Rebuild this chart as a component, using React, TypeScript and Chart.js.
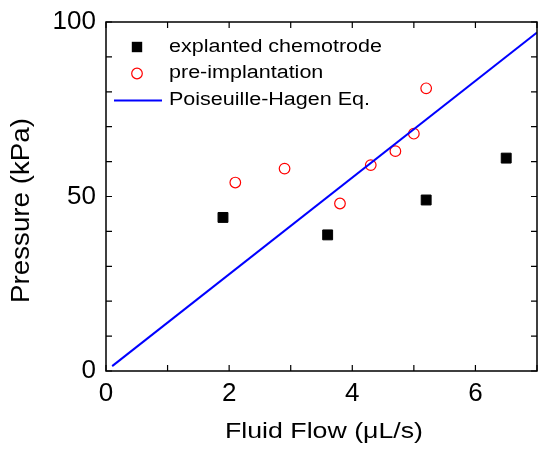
import React, { useEffect, useRef } from "react";
import { Chart, registerables } from "chart.js";

Chart.register(...registerables);

// ---- data ----
const explantedFlow = [1.9, 3.6, 5.2, 6.5];
const explantedPressure = [44, 39, 49, 61];
const preFlow = [2.1, 2.9, 3.8, 4.3, 4.7, 5.0, 5.2];
const prePressure = [54, 58, 48, 59, 63, 68, 81];
const fitFlow = [0.1, 7];
const fitPressure = [1.4, 97];

const xTickLabels = ["0", "2", "4", "6"];
const yTickLabels = ["0", "50", "100"];
const xTitle = "Fluid Flow (\u03bcL/s)";
const yTitle = "Pressure (kPa)";
const legendLabels = ["explanted chemotrode", "pre-implantation", "Poiseuille-Hagen Eq."];

const FONT = '"Liberation Sans", Arial, Helvetica, sans-serif';

function pts(xs: number[], ys: number[]) {
  return xs.map((x, i) => ({ x, y: ys[i] }));
}

export default function App() {
  const ref = useRef<HTMLCanvasElement>(null);

  useEffect(() => {
    const canvas = ref.current!;
    const framePlugin = {
      id: "framePlugin",
      afterDatasetsDraw(chart: any) {
        const ctx = chart.ctx as CanvasRenderingContext2D;
        const a = chart.chartArea;
        const xs = chart.scales.x;
        const ys = chart.scales.y;
        const tl = 6;
        ctx.save();
        ctx.strokeStyle = "#000";
        ctx.lineWidth = 1.5;
        ctx.beginPath();
        ctx.rect(a.left, a.top, a.right - a.left, a.bottom - a.top);
        ctx.stroke();
        ctx.lineWidth = 1.2;
        ctx.beginPath();
        xs.ticks.forEach((t: any) => {
          const px = xs.getPixelForValue(t.value);
          ctx.moveTo(px, a.bottom);
          ctx.lineTo(px, a.bottom - tl);
          ctx.moveTo(px, a.top);
          ctx.lineTo(px, a.top + tl);
        });
        ys.ticks.forEach((t: any) => {
          const py = ys.getPixelForValue(t.value);
          ctx.moveTo(a.left, py);
          ctx.lineTo(a.left + tl, py);
          ctx.moveTo(a.right, py);
          ctx.lineTo(a.right - tl, py);
        });
        ctx.stroke();
        ctx.restore();
      },
      afterDraw(chart: any) {
        const ctx = chart.ctx as CanvasRenderingContext2D;
        ctx.save();
        ctx.fillStyle = "#000";
        // x title
        ctx.font = `22px ${FONT}`;
        ctx.textAlign = "center";
        ctx.textBaseline = "alphabetic";
        let w = ctx.measureText(xTitle).width;
        ctx.save();
        ctx.translate(324, 438);
        ctx.scale(198 / w, 1);
        ctx.fillText(xTitle, 0, 0);
        ctx.restore();
        // y title
        ctx.font = `25px ${FONT}`;
        ctx.textBaseline = "middle";
        w = ctx.measureText(yTitle).width;
        ctx.save();
        ctx.translate(22, 210.5);
        ctx.rotate(-Math.PI / 2);
        ctx.scale(185 / w, 1);
        ctx.fillText(yTitle, 0, 0);
        ctx.restore();
        // legend
        ctx.font = `18px ${FONT}`;
        ctx.textAlign = "left";
        ctx.textBaseline = "middle";
        const sx = 213 / ctx.measureText(legendLabels[0]).width;
        const rowsY = [47, 73.5, 100];
        legendLabels.forEach((lab, i) => {
          ctx.save();
          ctx.translate(169, rowsY[i]);
          ctx.scale(sx, 1);
          ctx.fillText(lab, 0, 0);
          ctx.restore();
        });
        // legend markers
        ctx.fillStyle = "#000";
        ctx.fillRect(137 - 5.2, 47 - 5.2, 10.4, 10.4);
        ctx.strokeStyle = "#ff0000";
        ctx.lineWidth = 1.2;
        ctx.beginPath();
        ctx.arc(137, 73.5, 5.3, 0, Math.PI * 2);
        ctx.stroke();
        ctx.strokeStyle = "#0000ff";
        ctx.lineWidth = 2;
        ctx.beginPath();
        ctx.moveTo(114, 100.5);
        ctx.lineTo(162, 100.5);
        ctx.stroke();
        ctx.restore();
      },
    };

    const chart = new Chart(canvas, {
      type: "scatter",
      data: {
        datasets: [
          {
            label: legendLabels[2],
            data: pts(fitFlow, fitPressure),
            showLine: true,
            borderColor: "#0000ff",
            borderWidth: 2,
            pointRadius: 0,
            fill: false,
          },
          {
            label: legendLabels[0],
            data: pts(explantedFlow, explantedPressure),
            pointStyle: "rect",
            pointRadius: 7,
            backgroundColor: "#000",
            borderColor: "#000",
            borderWidth: 1,
          },
          {
            label: legendLabels[1],
            data: pts(preFlow, prePressure),
            pointStyle: "circle",
            pointRadius: 5.3,
            backgroundColor: "rgba(0,0,0,0)",
            borderColor: "#ff0000",
            borderWidth: 1.2,
          },
        ],
      },
      options: {
        responsive: false,
        animation: false,
        devicePixelRatio: 1,
        layout: { padding: { top: 22, right: 4, left: 0, bottom: 0 } },
        plugins: { legend: { display: false }, tooltip: { enabled: false } },
        scales: {
          x: {
            type: "linear",
            min: 0,
            max: 7,
            grid: { display: false, drawTicks: false },
            border: { display: false },
            ticks: {
              stepSize: 1,
              autoSkip: false,
              maxRotation: 0,
              padding: 7,
              color: "#000",
              font: { family: FONT, size: 26 },
              callback: (v: any) => (xTickLabels.includes(String(v)) ? String(v) : ""),
            },
            afterFit: (s: any) => {
              s.height = 80;
              s.paddingLeft = 0;
              s.paddingRight = 0;
            },
          },
          y: {
            type: "linear",
            min: 0,
            max: 100,
            grid: { display: false, drawTicks: false },
            border: { display: false },
            ticks: {
              stepSize: 10,
              autoSkip: false,
              padding: 10,
              color: "#000",
              font: { family: FONT, size: 26 },
              callback: (v: any) => (yTickLabels.includes(String(v)) ? String(v) : ""),
            },
            afterFit: (s: any) => {
              s.width = 106;
              s.paddingTop = 0;
              s.paddingBottom = 0;
            },
          },
        },
      },
      plugins: [framePlugin],
    });
    return () => chart.destroy();
  }, []);

  return (
    <div
      style={{
        position: "fixed",
        left: 0,
        top: 0,
        width: 539,
        height: 451,
        overflow: "hidden",
        background: "#fff",
      }}
    >
      <canvas ref={ref} width={545} height={451} style={{ display: "block", width: 545, height: 451 }} />
    </div>
  );
}
